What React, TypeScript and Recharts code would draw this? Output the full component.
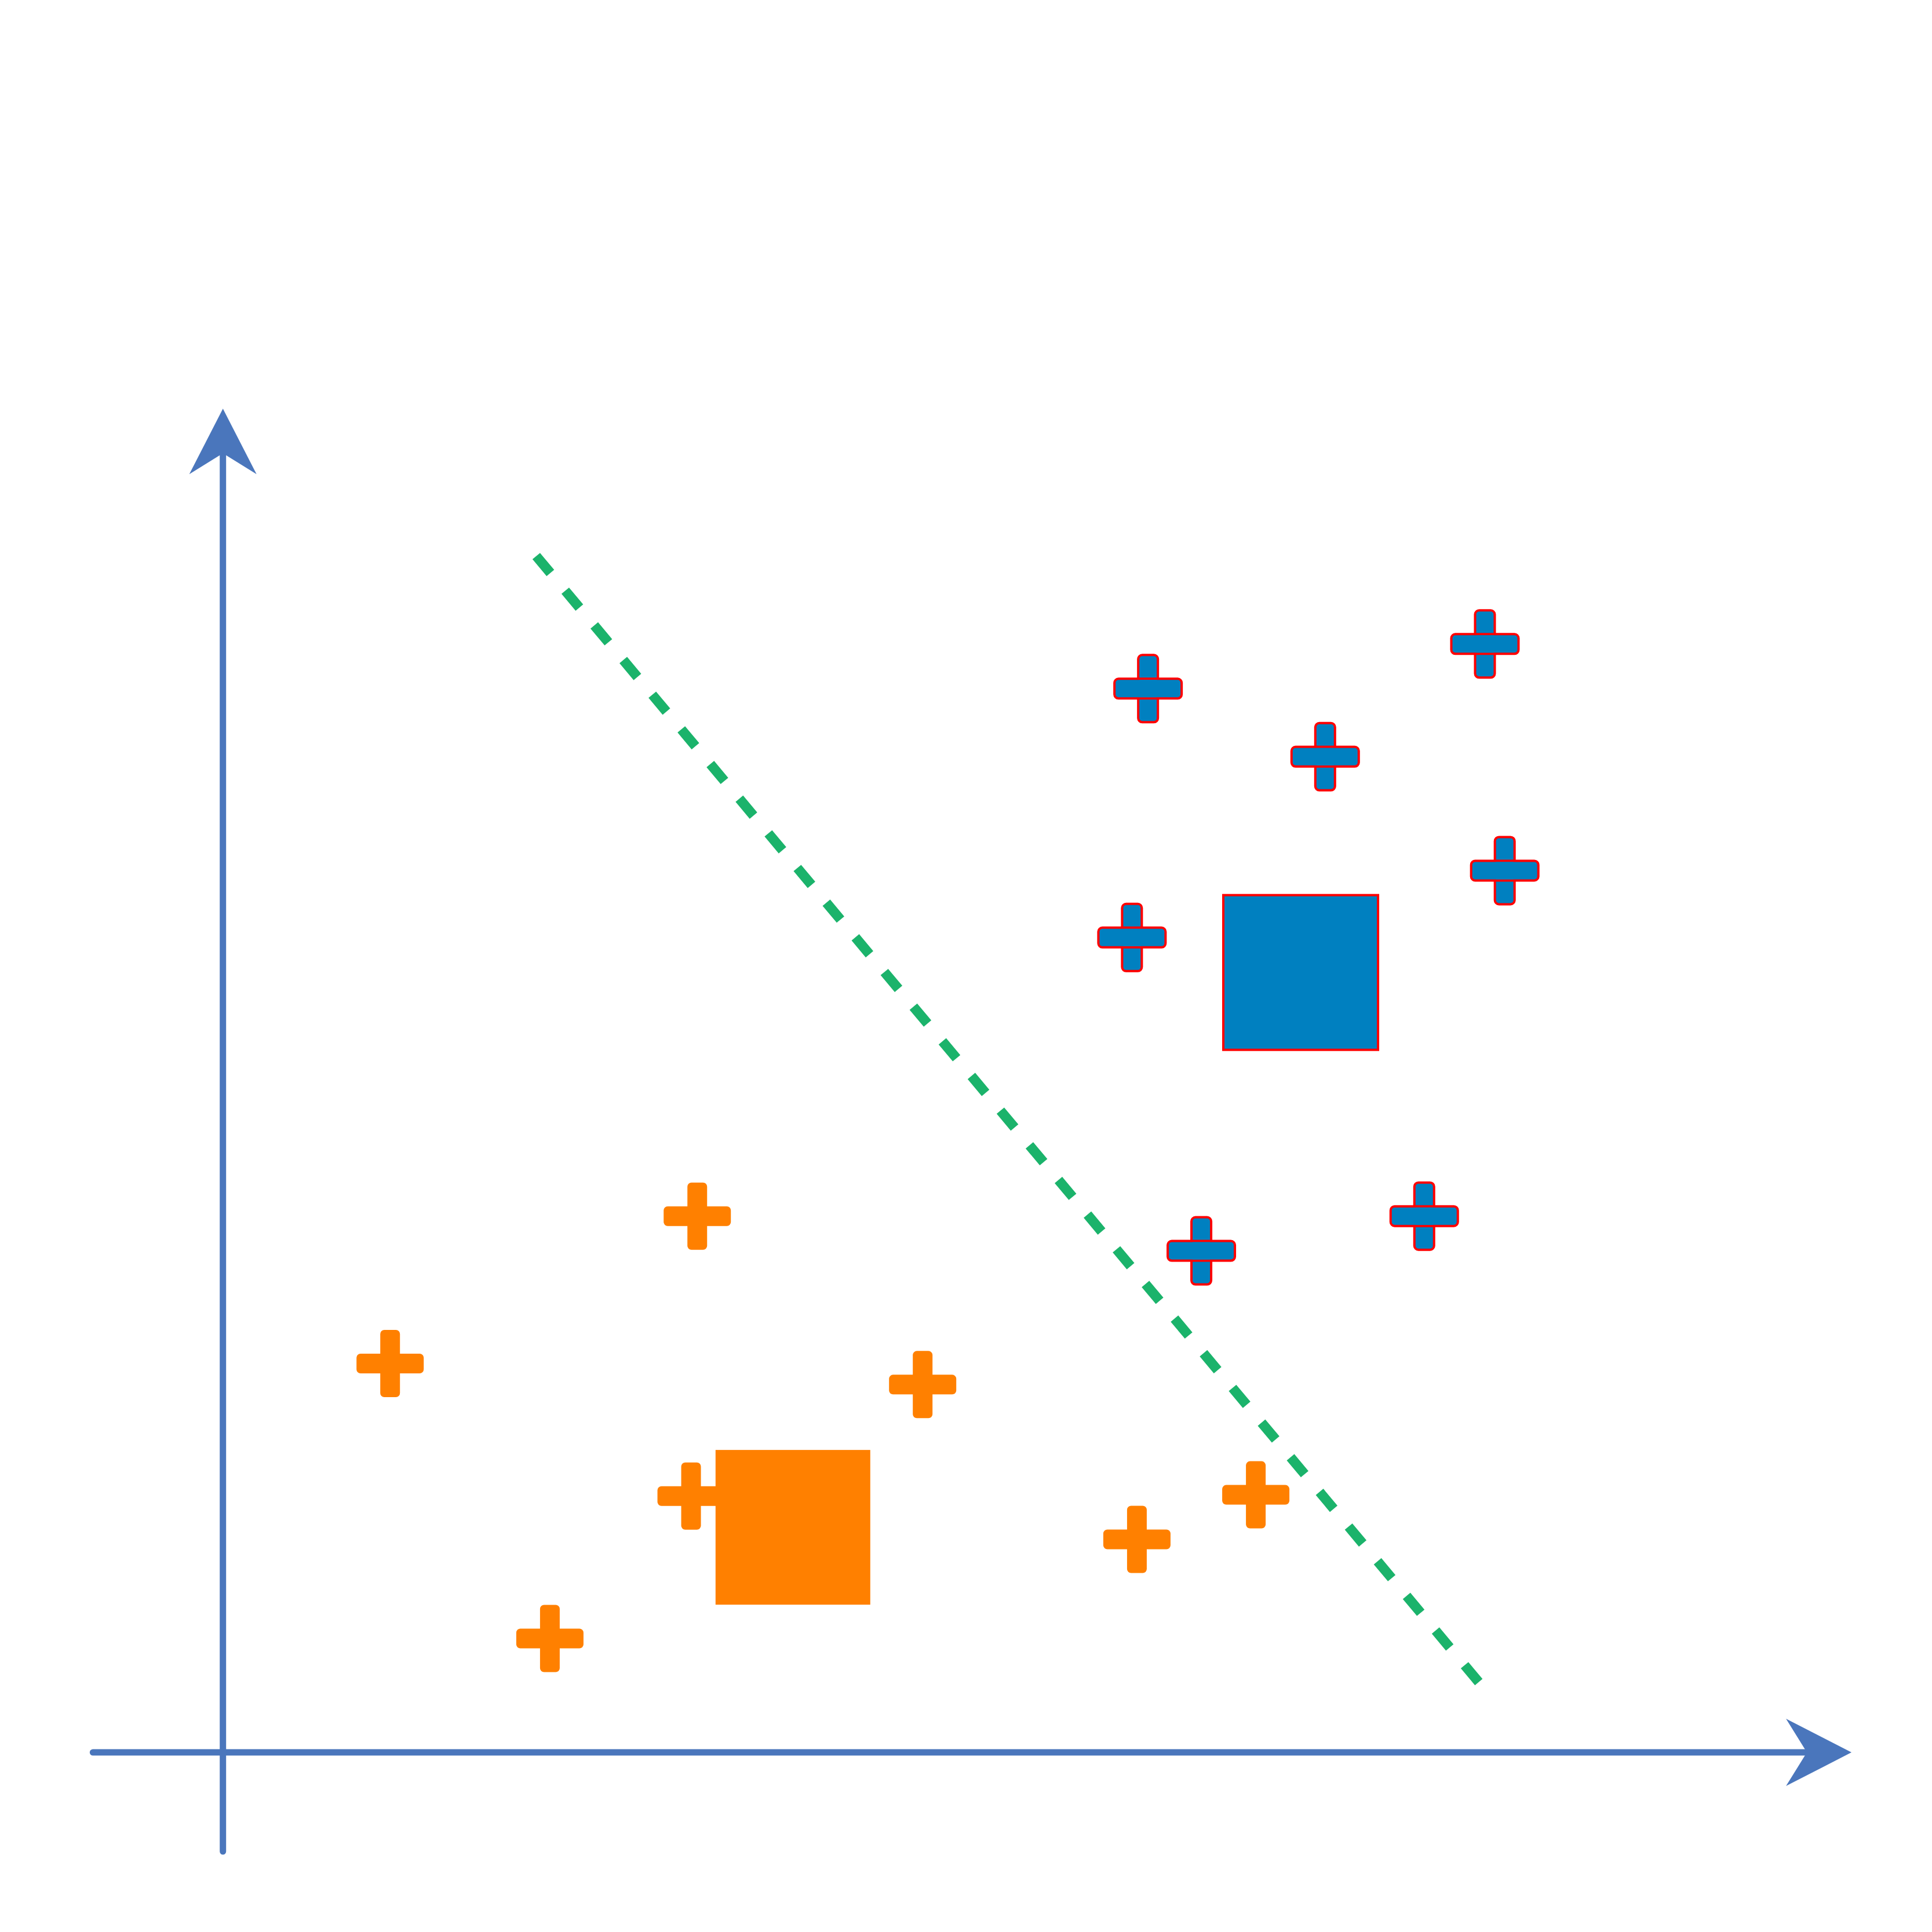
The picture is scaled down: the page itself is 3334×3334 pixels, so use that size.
import { ScatterChart, Scatter, XAxis, YAxis, ReferenceLine } from "recharts";

const blueCrosses = [
  { x: 7.47, y: 8.59 }, { x: 8.9, y: 8.04 }, { x: 10.19, y: 8.95 }, { x: 10.35, y: 7.12 },
  { x: 7.34, y: 6.58 }, { x: 7.9, y: 4.05 }, { x: 9.7, y: 4.33 },
];
const orangeCrosses = [
  { x: 3.83, y: 4.33 }, { x: 1.35, y: 3.14 }, { x: 5.65, y: 2.97 }, { x: 3.78, y: 2.07 },
  { x: 2.64, y: 0.92 }, { x: 7.38, y: 1.72 }, { x: 8.34, y: 2.08 },
];
const blueCentre = [{ x: 8.7, y: 6.3 }];
const orangeCentre = [{ x: 4.6, y: 1.82 }];
const boundary = [{ x: 2.53, y: 9.66 }, { x: 10.18, y: 0.52 }];

const AXIS = "#4A76BC";
const BLUE = "#0080C0";
const ORANGE = "#FF8000";

const Cross = (fill: string, stroke?: string) => (p: any) => {
  const { cx, cy } = p;
  const a = 58, t = 17, r = 5;
  const d = `M${cx - t},${cy - a} h${2 * t} v${a - t} h${a - t} v${2 * t} h${-(a - t)} v${a - t} h${-2 * t} v${-(a - t)} h${-(a - t)} v${-2 * t} h${a - t} Z`;
  return <path d={d} fill={fill} stroke={stroke || fill} strokeWidth={stroke ? 4 : 0} strokeLinejoin="round" style={{ strokeLinejoin: "round" }} />;
};
const RoundCross = (fill: string, stroke?: string) => (p: any) => (
  <g>
    <rect x={p.cx - 17} y={p.cy - 58} width={34} height={116} rx={7} fill={fill} stroke={stroke} strokeWidth={4} />
    <rect x={p.cx - 58} y={p.cy - 17} width={116} height={34} rx={7} fill={fill} stroke={stroke} strokeWidth={4} />
    {stroke && <rect x={p.cx - 15} y={p.cy - 15} width={30} height={30} fill={fill} />}
  </g>
);
const Square = (fill: string, stroke?: string) => (p: any) => (
  <rect x={p.cx - 133} y={p.cy - 133} width={267} height={267} fill={fill} stroke={stroke} strokeWidth={4} />
);

const Arrow = (dir: "x" | "y") => (p: any) => {
  const { x1, y1, x2, y2 } = p;
  const head = dir === "x"
    ? `M${x2},${y2} L${x2 - 113},${y2 - 58} L${x2 - 77},${y2} L${x2 - 113},${y2 + 58} Z`
    : `M${x2},${y2} L${x2 - 58},${y2 + 113} L${x2},${y2 + 77} L${x2 + 58},${y2 + 113} Z`;
  return (
    <g>
      <line x1={x1} y1={y1} x2={dir === "x" ? x2 - 80 : x2} y2={dir === "y" ? y2 + 80 : y2} stroke={AXIS} strokeWidth={11} strokeLinecap="round" />
      <path d={head} fill={AXIS} />
    </g>
  );
};

export default function App() {
  return (
    <div style={{ position: "absolute", left: 0, top: 0, background: "#fff" }}>
      <ScatterChart width={3334} height={3334} margin={{ top: 0, right: 0, bottom: 0, left: 0 }}>
        <XAxis type="number" dataKey="x" domain={[-1.8, 13.8]} hide />
        <YAxis type="number" dataKey="y" domain={[-1.45, 14.15]} hide />
        <ReferenceLine segment={[{ x: -1.05, y: 0 }, { x: 13.15, y: 0 }]} shape={Arrow("x")} ifOverflow="visible" />
        <ReferenceLine segment={[{ x: 0, y: -0.8 }, { x: 0, y: 10.85 }]} shape={Arrow("y")} ifOverflow="visible" />
        <ReferenceLine segment={boundary} stroke="#1BB36B" strokeWidth={17} strokeDasharray="38 40" ifOverflow="visible" />
        <Scatter data={blueCrosses} shape={RoundCross(BLUE, "#FF0000")} isAnimationActive={false} />
        <Scatter data={orangeCrosses} shape={RoundCross(ORANGE)} isAnimationActive={false} />
        <Scatter data={blueCentre} shape={Square(BLUE, "#FF0000")} isAnimationActive={false} />
        <Scatter data={orangeCentre} shape={Square(ORANGE)} isAnimationActive={false} />
      </ScatterChart>
    </div>
  );
}
